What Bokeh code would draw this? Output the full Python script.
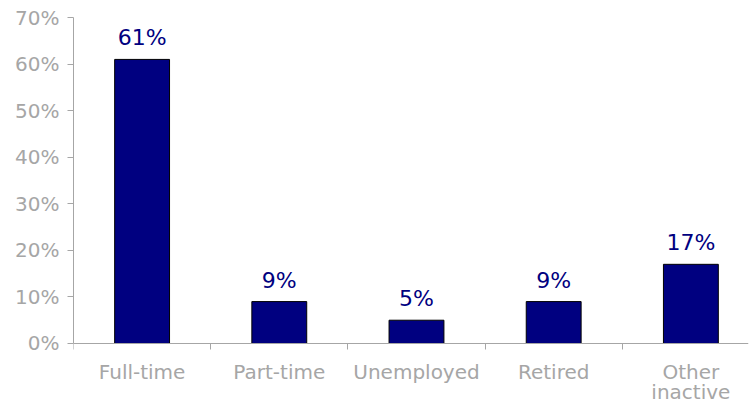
from bokeh.plotting import figure
from bokeh.models import Range1d, FixedTicker, ColumnDataSource
from bokeh.core.properties import value
from bokeh.embed import file_html
from bokeh.resources import INLINE

categories = ["Full-time", "Part-time", "Unemployed", "Retired", "Other\ninactive"]
shares = [61, 9, 5, 9, 17]
value_labels = ["61%", "9%", "5%", "9%", "17%"]
y_ticks = [0, 10, 20, 30, 40, 50, 60, 70]
y_tick_labels = ["0%", "10%", "20%", "30%", "40%", "50%", "60%", "70%"]

GRAY = "#a6a6a6"
NAVY = "#000080"
FONT = "DejaVu Sans"

xs = [i + 0.5 for i in range(len(categories))]
line1 = [c.split("\n")[0] for c in categories]
line2 = [c.split("\n")[1] if "\n" in c else "" for c in categories]
src = ColumnDataSource(dict(x=xs, top=shares, lab=value_labels,
                            base=[0] * len(categories), l1=line1, l2=line2))

# frame runs to the bottom of the canvas; the x axis is pinned at y=0
p = figure(width=749, height=404, output_backend="svg", toolbar_location=None,
           x_range=Range1d(0, 4.92), y_range=Range1d(-13.1, 70),
           min_border_left=73, min_border_right=1, min_border_top=17, min_border_bottom=0)
p.outline_line_color = None
p.xgrid.visible = False
p.ygrid.visible = False

p.vbar(x="x", top="top", width=0.4, bottom=0, source=src,
       fill_color=NAVY, line_color="black", line_width=1)
p.text(x="x", y="top", text="lab", source=src, y_offset=-9,
       text_align="center", text_baseline="bottom",
       text_font=value(FONT), text_font_size="22px", text_color=NAVY)

# category labels under the axis (two rows)
p.text(x="x", y="base", text="l1", source=src, y_offset=17,
       text_align="center", text_baseline="top",
       text_font=value(FONT), text_font_size="20px", text_color=GRAY)
p.text(x="x", y="base", text="l2", source=src, y_offset=37,
       text_align="center", text_baseline="top",
       text_font=value(FONT), text_font_size="20px", text_color=GRAY)

# y axis
p.yaxis.ticker = FixedTicker(ticks=y_ticks)
p.yaxis.bounds = (0, 70)
p.yaxis.major_label_overrides = {t: l for t, l in zip(y_ticks, y_tick_labels)}
p.yaxis.axis_line_color = GRAY
p.yaxis.major_tick_line_color = GRAY
p.yaxis.major_tick_out = 6
p.yaxis.major_tick_in = 0
p.yaxis.minor_tick_line_color = None
p.yaxis.major_label_text_color = GRAY
p.yaxis.major_label_text_font = FONT
p.yaxis.major_label_text_font_size = "20px"
p.yaxis.major_label_standoff = 8

# x axis
p.xaxis.fixed_location = 0
p.xaxis.ticker = FixedTicker(ticks=xs, minor_ticks=[0, 1, 2, 3, 4, 5])
p.xaxis.major_label_text_color = None
p.xaxis.axis_line_color = GRAY
p.xaxis.major_tick_line_color = None
p.xaxis.major_tick_out = 0
p.xaxis.major_tick_in = 0
p.xaxis.minor_tick_line_color = GRAY
p.xaxis.minor_tick_out = 6
p.xaxis.minor_tick_in = 0

open("out.html", "w").write(file_html(p, INLINE))
